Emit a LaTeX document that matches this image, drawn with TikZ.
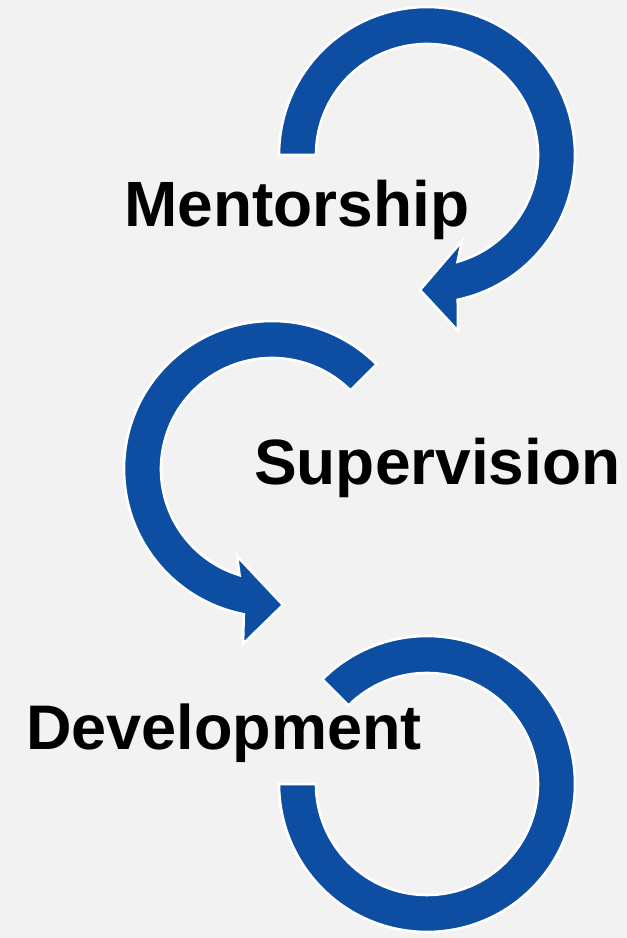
\documentclass[tikz,border=0pt]{standalone}
\usepackage{fontspec}
\setmainfont{Liberation Sans}
\usetikzlibrary{calc}
\definecolor{bg}{HTML}{F2F2F2}
\definecolor{arcblue}{HTML}{0E4EA2}
\tikzset{
  band/.style={fill=arcblue, draw=white, line width=2.6pt, line join=miter},
  label/.style={inner sep=0pt, anchor=base, font=\fontsize{64}{64}\selectfont\bfseries, text=black}
}
\begin{document}
\begin{tikzpicture}[x=1pt,y=1pt]
  \fill[bg] (0,0) rectangle (627,938);
  \useasboundingbox (0,0) rectangle (627,938);
  \coordinate (c1) at (427,783);
  \coordinate (c2) at (272,469);
  \coordinate (c3) at (427,154);
  % arc 1 (clockwise, arrow at lower left)
  \path[band] ($(c1)+(180:148pt)$) arc[start angle=180,end angle=-78,radius=148pt]
     -- (458,607) -- (420,648) -- (462,697)
     -- ($(c1)+(-74:111pt)$) arc[start angle=-74,end angle=180,radius=111pt] -- cycle;
  % arc 2 (counter-clockwise, arrow at lower right)
  \path[band] ($(c2)+(45:148pt)$) arc[start angle=45,end angle=259,radius=148pt]
     -- (243,294) -- (283,333) -- (237,382)
     -- ($(c2)+(253:111pt)$) arc[start angle=253,end angle=45,radius=111pt] -- cycle;
  % arc 3 (no head)
  \path[band] ($(c3)+(135:148pt)$) arc[start angle=135,end angle=-180,radius=148pt]
     -- ($(c3)+(180:111pt)$) arc[start angle=-180,end angle=135,radius=111pt] -- cycle;
  \node[label] (m) at (296.7,711.3) {Mentorship};
  \node[label] (s) at (437.3,453) {Supervision};
  \node[label, font=\fontsize{63}{63}\selectfont\bfseries] (d) at (224.2,188) {Development};
\end{tikzpicture}
\end{document}
